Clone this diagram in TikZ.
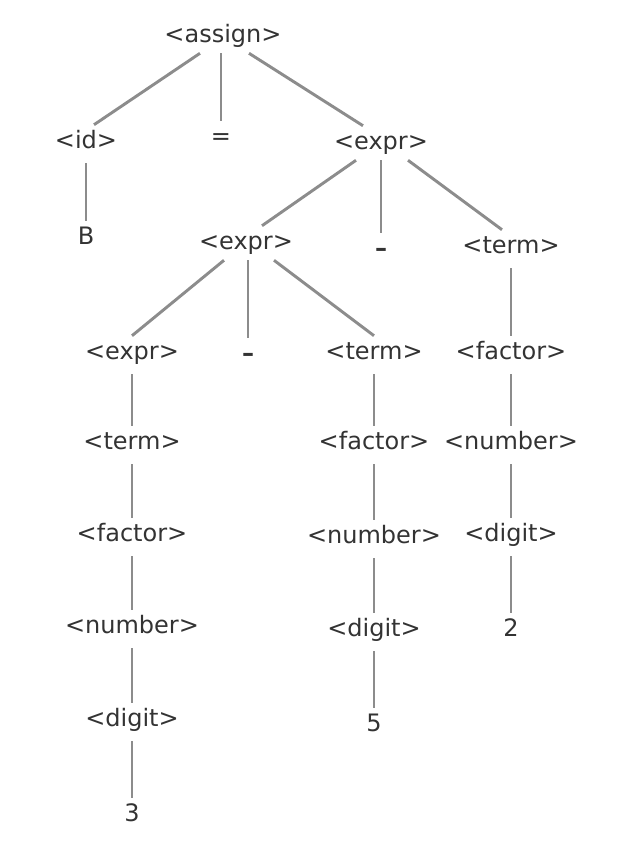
\documentclass[tikz,border=0pt]{standalone}
\usepackage{fontspec}
\setmainfont{DejaVu Sans}
\usepackage{tikz}
\usetikzlibrary{calc}

\tikzset{
  sym/.style={font=\fontsize{18pt}{20pt}\selectfont, text=black!80, text height=13.5pt, text depth=4.5pt, inner xsep=2pt, inner ysep=3.75pt},
  branch/.style={draw=black!45, line width=2.2pt},
  stem/.style={branch, shorten <=3pt},
}

\begin{document}
\begin{tikzpicture}[x=0.75pt,y=0.75pt,yscale=-1,xscale=1]
\useasboundingbox (0,0) rectangle (630,861);

% top level
\node [sym] (assign) at (223,36) {<assign>};
\node [sym] (id) at (86,142) {<id>};
\node [sym] (eq) at (221,138) {=};
\node [sym] (expr1) at (381,143) {<expr>};
\node [sym] (B) at (86,238) {B};

% second level
\node [sym] (expr2) at (246,243) {<expr>};
\node [sym] (minus1) at (381,250) {\bfseries –};
\node [sym] (term1) at (511,247) {<term>};

% left column
\node [sym] (expr3) at (132,353) {<expr>};
\node [sym] (term3) at (132,443) {<term>};
\node [sym] (factor3) at (132,535) {<factor>};
\node [sym] (number3) at (132,627) {<number>};
\node [sym] (digit3) at (132,720) {<digit>};
\node [sym] (three) at (132,815) {3};

% middle column
\node [sym] (minus2) at (248,355) {\bfseries –};
\node [sym] (term2) at (374,353) {<term>};
\node [sym] (factor2) at (374,443) {<factor>};
\node [sym] (number2) at (374,537) {<number>};
\node [sym] (digit2) at (374,630) {<digit>};
\node [sym] (five) at (374,725) {5};

% right column
\node [sym] (factor1) at (511,353) {<factor>};
\node [sym] (number1) at (511,443) {<number>};
\node [sym] (digit1) at (511,535) {<digit>};
\node [sym] (two) at (511,630) {2};

% branches
\draw [branch] ($(assign.south)+(-23,0)$) -- ($(id.north)+(8,0)$);
\draw [branch] (eq.north |- assign.south) -- (eq.north);
\draw [branch] ($(assign.south)+(26,0)$) -- ($(expr1.north)+(-18,0)$);
\draw [stem] (id.south) -- (B.north);

\draw [branch] ($(expr1.south)+(-25,0)$) -- ($(expr2.north)+(16,0)$);
\draw [branch] (expr1.south) -- (minus1.north);
\draw [branch] ($(expr1.south)+(27,0)$) -- ($(term1.north)+(-9,0)$);

\draw [branch] ($(expr2.south)+(-22,0)$) -- (expr3.north);
\draw [branch] (minus2.north |- expr2.south) -- (minus2.north);
\draw [branch] ($(expr2.south)+(28,0)$) -- (term2.north);

\draw [stem] (expr3.south) -- (term3.north);
\draw [stem] (term3.south) -- (factor3.north);
\draw [stem] (factor3.south) -- (number3.north);
\draw [stem] (number3.south) -- (digit3.north);
\draw [stem] (digit3.south) -- (three.north);

\draw [stem] (term2.south) -- (factor2.north);
\draw [stem] (factor2.south) -- (number2.north);
\draw [stem] (number2.south) -- (digit2.north);
\draw [stem] (digit2.south) -- (five.north);

\draw [stem] (term1.south) -- (factor1.north);
\draw [stem] (factor1.south) -- (number1.north);
\draw [stem] (number1.south) -- (digit1.north);
\draw [stem] (digit1.south) -- (two.north);

\end{tikzpicture}
\end{document}
